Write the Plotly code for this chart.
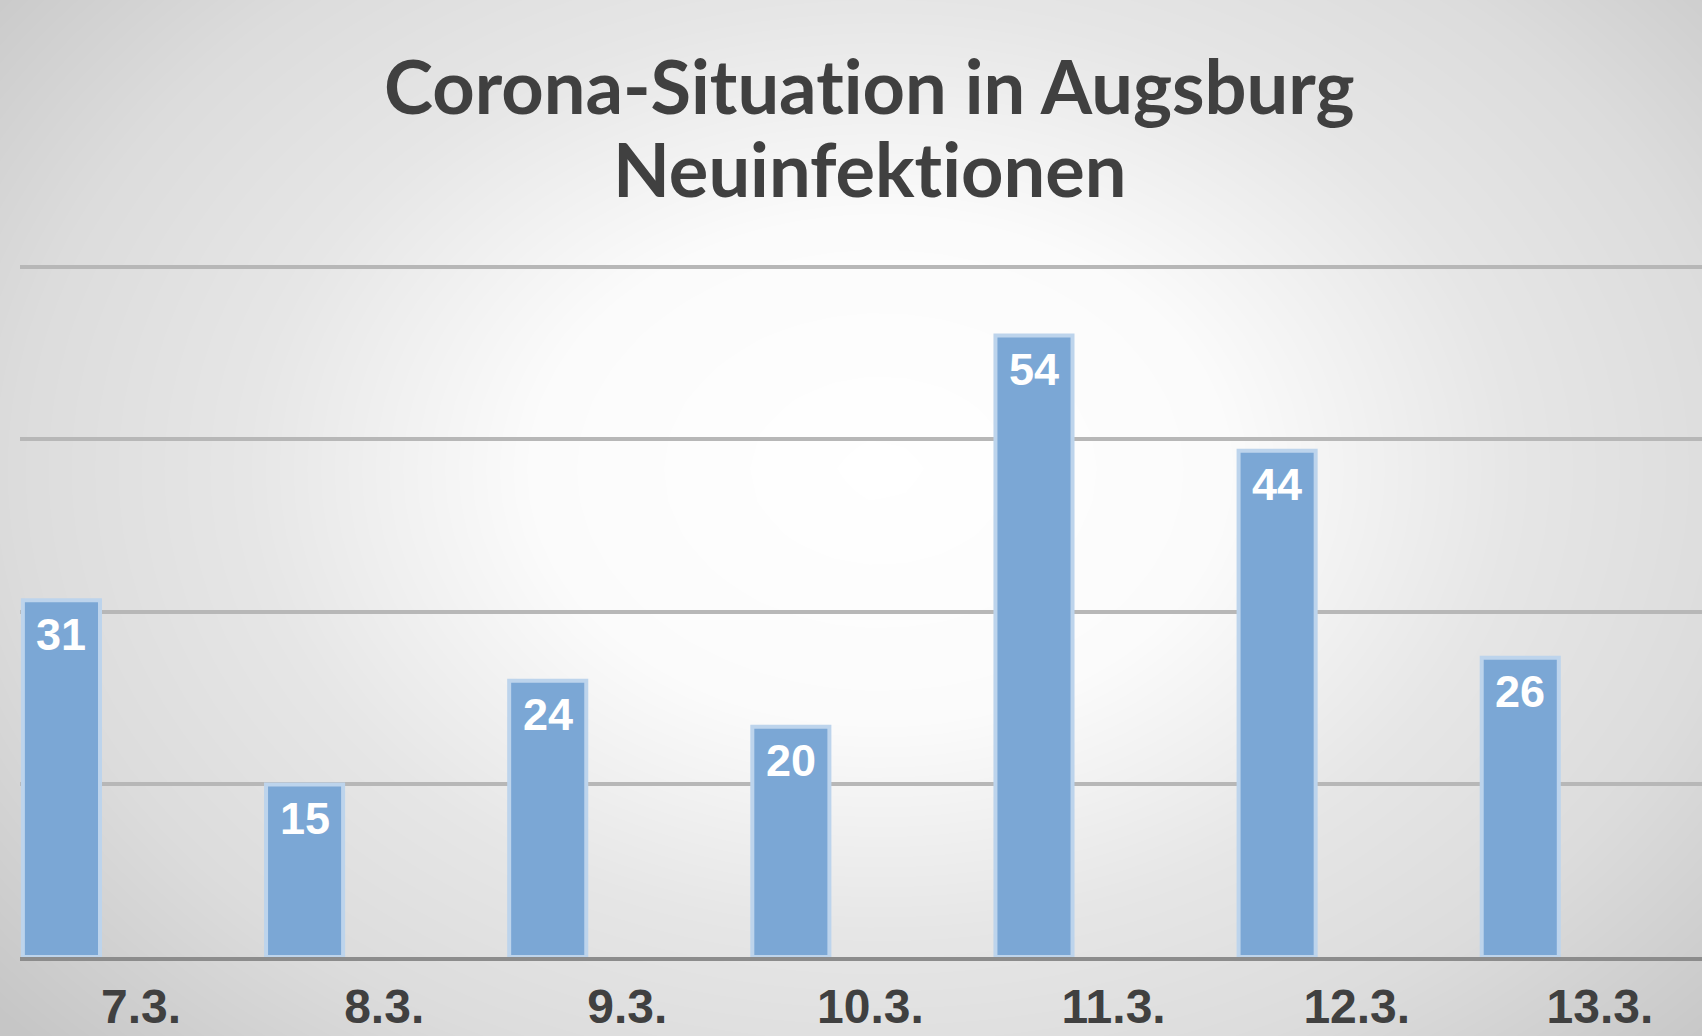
import numpy as np
import plotly.graph_objects as go

# Neuinfektionen pro Tag
tage = ["7.3.", "8.3.", "9.3.", "10.3.", "11.3.", "12.3.", "13.3."]
neuinfektionen = [31, 15, 24, 20, 54, 44, 26]
gitter_werte = [0, 15, 30, 45, 60]
titel_zeilen = ["Corona-Situation in Augsburg", "Neuinfektionen"]

W, H = 1702, 1036

BALKEN_OFFSET = -0.486
BALKEN_BREITE = 0.317
PX_PRO_KATEGORIE = (W - 19.5) / 6.92

# heller, radialer Hintergrund (nur Dekoration)
gx = np.linspace(0, 1, 48)
gy = np.linspace(0, 1, 32)
cx, cy = 880 / W, 1 - 470 / H
X, Y = np.meshgrid(gx, gy)
r = np.sqrt(((X - cx) * W / 1100) ** 2 + ((Y - cy) * H / 800) ** 2)

hintergrund = go.Heatmap(
    x=gx, y=gy, z=r, xaxis="x", yaxis="y",
    zmin=0, zmax=1.05, zsmooth="best", showscale=False, hoverinfo="skip",
    colorscale=[[0, "#ffffff"], [0.3, "#fbfbfb"], [0.55, "#e6e6e6"],
                [0.75, "#dcdcdc"], [1, "#c6c6c6"]],
)

balken = go.Bar(
    x=tage, y=neuinfektionen, xaxis="x2", yaxis="y2",
    offset=BALKEN_OFFSET, width=BALKEN_BREITE,
    marker=dict(color="#7ba7d5", line=dict(color="#bdd4ec", width=4)),
    hoverinfo="x+y",
)

fig = go.Figure([hintergrund, balken])

# Werte oben in den Balken
versatz_px = (BALKEN_OFFSET + BALKEN_BREITE / 2) * PX_PRO_KATEGORIE
beschriftung = []
for tag, wert in zip(tage, neuinfektionen):
    beschriftung.append(dict(
        text="<b>%d</b>" % wert, x=tag, y=wert, xref="x2", yref="y2",
        xshift=versatz_px, yshift=-34, xanchor="center", yanchor="middle",
        showarrow=False,
        font=dict(family="Liberation Sans", size=45, color="white"),
    ))

# Titel: zwei Zeilen, ohne "ti"-Ligatur
titel_font = dict(family="Lato", size=74, color="#404040")
titel = []
for zeile, y_px in zip(titel_zeilen, [85, 168]):
    titel.append(dict(
        text="<b>" + zeile.replace("ti", "t\u200ci") + "</b>",
        x=870 / W, y=1 - y_px / H, xref="paper", yref="paper",
        xanchor="center", yanchor="middle", showarrow=False,
        font=titel_font,
    ))

fig.update_layout(
    width=W, height=H,
    margin=dict(l=0, r=0, t=0, b=0),
    paper_bgcolor="#e0e0e0",
    plot_bgcolor="rgba(0,0,0,0)",
    showlegend=False,
    xaxis=dict(domain=[0, 1], range=[0, 1], visible=False, fixedrange=True),
    yaxis=dict(domain=[0, 1], range=[0, 1], visible=False, fixedrange=True),
    xaxis2=dict(
        domain=[19.5 / W, 1], anchor="y2", range=[-0.5, 6.42],
        showgrid=False, showline=True, linecolor="#8c8c8c", linewidth=4,
        ticks="", ticklabelstandoff=4,
        tickfont=dict(family="Liberation Sans", size=48, color="#404040", weight="bold"),
    ),
    yaxis2=dict(
        domain=[1 - 957 / H, 1 - 262.5 / H], anchor="x2", range=[0, 60.35],
        tickvals=gitter_werte, showticklabels=False, zeroline=False,
        gridcolor="#b7b7b7", gridwidth=3.5,
    ),
    annotations=titel + beschriftung,
)

fig.write_html(
    "out.html",
    config=dict(displayModeBar=False),
    post_script="document.body.style.margin='0';",
)
